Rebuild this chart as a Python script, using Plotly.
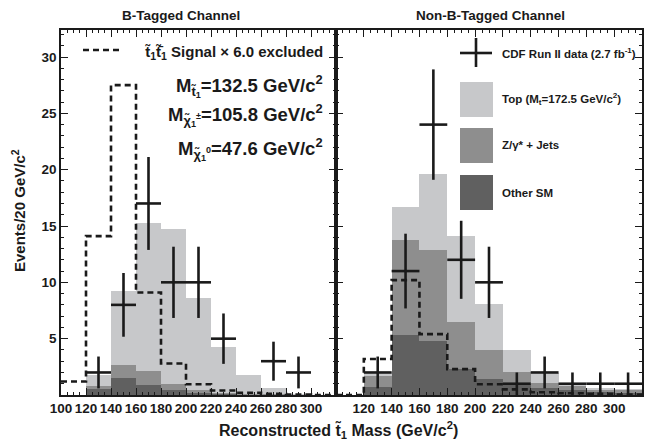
import numpy as np
import plotly.graph_objects as go

# ---------------- data ----------------
bin_edges = [100, 120, 140, 160, 180, 200, 220, 240, 260, 280, 300, 320]
bin_centers = [110, 130, 150, 170, 190, 210, 230, 250, 270, 290, 310]

# B-tagged channel
other_b = [0, 0.5, 1.55, 0.9, 0.45, 0.15, 0.1, 0.05, 0.03, 0.02, 0]
zjets_b = [0, 0.3, 1.1, 1.2, 0.55, 0.25, 0.1, 0.05, 0.02, 0.01, 0]
top_b = [0, 1.0, 6.6, 13.2, 13.7, 8.2, 4.05, 1.7, 0.55, 0.05, 0]
signal_b = [1.2, 14.1, 27.5, 9.1, 2.8, 0.95, 0.4, 0.2, 0.1, 0.05, 0.0]
data_b = [0, 2, 8, 17, 10, 10, 5, 0, 3, 2, 0]

# Non-B-tagged channel
other_n = [0, 0.75, 5.3, 4.8, 2.3, 1.4, 0.95, 0.65, 0.45, 0.3, 0.2]
zjets_n = [0, 0.9, 8.5, 8.1, 4.2, 2.6, 1.05, 0.45, 0.35, 0.2, 0.25]
top_n = [0, 0.35, 2.9, 6.7, 7.6, 4.05, 2.0, 0.85, 0.3, 0.05, 0.05]
signal_n = [0, 3.2, 10.2, 5.4, 2.3, 0.95, 0.5, 0.25, 0.15, 0.1, 0.05]
data_n = [0, 2, 11, 24, 12, 10, 1, 2, 1, 1, 1]

x_ticks_b = [100, 120, 140, 160, 180, 200, 220, 240, 260, 280, 300]
x_ticks_n = [120, 140, 160, 180, 200, 220, 240, 260, 280, 300]
y_ticks = [5, 10, 15, 20, 25, 30]

C_TOP = "#c7c8ca"
C_Z = "#8e8e8e"
C_OTHER = "#606060"

W, H = 656, 441
FONT = "Liberation Sans, Arial, Helvetica, sans-serif"


def px(x):
    return x / W


def py(y):
    return 1 - y / H


fig = go.Figure()


def add_panel(xa, ya, other, zj, top, sig, dat):
    for vals, col in ((other, C_OTHER), (zj, C_Z), (top, C_TOP)):
        fig.add_trace(go.Bar(x=bin_centers, y=vals, width=20, marker=dict(color=col, line=dict(width=0)),
                             xaxis=xa, yaxis=ya, showlegend=False))
    fig.add_trace(go.Scatter(x=bin_edges, y=list(sig) + [sig[-1]], mode="lines", line_shape="hv",
                             line=dict(color="#1a1a1a", width=2.6, dash="6px,4px"),
                             xaxis=xa, yaxis=ya, showlegend=False))
    xs = [c for c, d in zip(bin_centers, dat) if d > 0]
    ys = [d for d in dat if d > 0]
    errs = list(np.sqrt(ys))
    fig.add_trace(go.Scatter(x=xs, y=ys, mode="markers", marker=dict(size=2, color="#1a1a1a"),
                             error_y=dict(type="data", array=errs, thickness=2.6, width=0, color="#1a1a1a"),
                             error_x=dict(type="constant", value=10, thickness=2.6, width=0, color="#1a1a1a"),
                             xaxis=xa, yaxis=ya, showlegend=False))


add_panel("x", "y", other_b, zjets_b, top_b, signal_b, data_b)
add_panel("x2", "y2", other_n, zjets_n, top_n, signal_n, data_n)

tickfont = dict(family=FONT, size=13.5, color="#1a1a1a", weight="bold")
axis_common = dict(showline=True, linecolor="#1a1a1a", linewidth=1.6, mirror="allticks",
                   ticks="inside", ticklen=7, tickwidth=1.2, tickcolor="#1a1a1a",
                   showgrid=False, zeroline=False, layer="above traces", tickfont=tickfont,
                   automargin=False, tickangle=0)

yrange = [0, (395 - 30) / ((395 - 57) / 30.0)]
xdom_b = [px(61), px(336)]
xdom_n = [px(336), px(642)]
ydom = [py(395), py(30)]

fig.update_layout(
    template="none",
    width=W, height=H, margin=dict(l=0, r=0, t=0, b=0, autoexpand=False),
    paper_bgcolor="white", plot_bgcolor="white",
    barmode="stack", bargap=0,
    xaxis=dict(domain=xdom_b, range=[100, 320], tickvals=x_ticks_b, anchor="y",
               minor=dict(ticks="inside", ticklen=3.5, dtick=5, tick0=100, tickcolor="#1a1a1a"),
               **axis_common),
    yaxis=dict(domain=ydom, range=yrange, tickvals=y_ticks, anchor="x",
               minor=dict(ticks="inside", ticklen=3.5, dtick=1, tick0=0, tickcolor="#1a1a1a"),
               **axis_common),
    xaxis2=dict(domain=xdom_n, range=[100, 320], tickvals=x_ticks_n, anchor="y2",
                minor=dict(ticks="inside", ticklen=3.5, dtick=5, tick0=100, tickcolor="#1a1a1a"),
                **axis_common),
    yaxis2=dict(domain=ydom, range=yrange, tickvals=y_ticks, anchor="x2", showticklabels=False,
                minor=dict(ticks="inside", ticklen=3.5, dtick=1, tick0=0, tickcolor="#1a1a1a"),
                **axis_common),
)


def txt(x, y, s, size, xanchor="center", angle=0):
    fig.add_annotation(x=px(x), y=py(y), xref="paper", yref="paper", text=s, showarrow=False,
                       xanchor=xanchor, yanchor="middle", textangle=angle,
                       font=dict(family=FONT, size=size, color="#1a1a1a", weight="bold"))


txt(181, 16, "B-Tagged Channel", 13.5)
txt(490, 16, "Non-B-Tagged Channel", 13.5)
txt(18, 211, "Events/20 GeV/c<sup>2</sup>", 15, angle=-90)
txt(338, 430, "Reconstructed t\u0303<sub>1</sub> Mass (GeV/c<sup>2</sup>)", 16)

# left legend
fig.add_shape(type="line", xref="paper", yref="paper", x0=px(83), x1=px(122), y0=py(50), y1=py(50),
              line=dict(color="#1a1a1a", width=2.6, dash="6px,4px"))
txt(325, 52, "t\u0303<sub>1</sub>t\u0303\u0304<sub>1</sub> Signal \u00d7 6.0 excluded", 15, xanchor="right")
txt(325, 86, "M<sub>t\u0303<sub>1</sub></sub>=132.5 GeV/c<sup>2</sup>", 18.5, xanchor="right")
txt(325, 115, "M<sub>\u03c7\u0303<sub>1</sub><sup>\u00b1</sup></sub>=105.8 GeV/c<sup>2</sup>", 18.5, xanchor="right")
txt(325, 149, "M<sub>\u03c7\u0303<sub>1</sub><sup>0</sup></sub>=47.6 GeV/c<sup>2</sup>", 18.5, xanchor="right")

# right legend
fig.add_shape(type="line", xref="paper", yref="paper", x0=px(460), x1=px(492), y0=py(53), y1=py(53),
              line=dict(color="#1a1a1a", width=2.6))
fig.add_shape(type="line", xref="paper", yref="paper", x0=px(476), x1=px(476), y0=py(38), y1=py(67),
              line=dict(color="#1a1a1a", width=2.6))
for (y0, y1), col in (((82, 117), C_TOP), ((128, 163), C_Z), ((175, 210), C_OTHER)):
    fig.add_shape(type="rect", xref="paper", yref="paper", x0=px(460), x1=px(493), y0=py(y1), y1=py(y0),
                  fillcolor=col, line=dict(width=0))
txt(500, 53, "CDF Run II data (2.7 fb<sup>-1</sup>)", 11.5, xanchor="left")
txt(500, 99, "Top (M<sub>t</sub>=172.5 GeV/c<sup>2</sup>)", 11.5, xanchor="left")
txt(500, 145, "Z/\u03b3* + Jets", 11.5, xanchor="left")
txt(500, 193, "Other SM", 11.5, xanchor="left")

fig.write_html("out.html", config={"displayModeBar": False},
               post_script="document.body.style.margin='0';document.body.style.overflow='hidden';")
